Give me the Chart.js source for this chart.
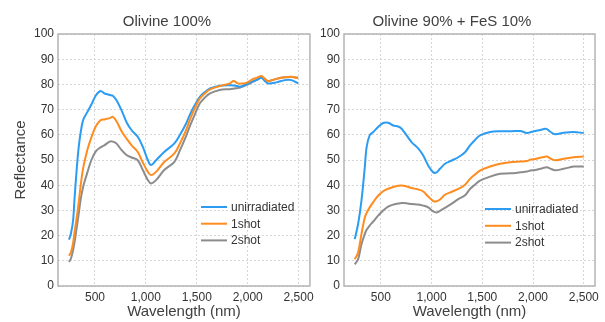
<!DOCTYPE html>
<html>
<head>
<meta charset="utf-8">
<script src="https://cdn.jsdelivr.net/npm/chart.js@4/dist/chart.umd.min.js"></script>
<style>
  html, body { margin: 0; padding: 0; background: #ffffff; }
  body { width: 605px; height: 322px; position: relative; overflow: hidden; }
  .panel { position: absolute; top: 0; }
</style>
</head>
<body>
<div class="panel" style="left:0px;width:318px;height:322px;"><canvas id="left" width="318" height="322"></canvas></div>
<div class="panel" style="left:312px;width:293px;height:322px;"><canvas id="right" width="293" height="322"></canvas></div>
<script>
// ---------- data ----------
const seriesNames = ['unirradiated', '1shot', '2shot'];
const xTickValues = [500, 1000, 1500, 2000, 2500];
const yTickStep = 10;

// Panel 1: Olivine 100%
const leftWavelength = [245, 265, 285, 300, 320, 340, 360, 385, 425, 465, 510, 555, 595, 645, 675, 710, 760, 810, 860, 920, 970, 1020, 1050, 1100, 1180, 1280, 1335, 1395, 1430, 1480, 1530, 1580, 1630, 1725, 1825, 1860, 1905, 1925, 1985, 2050, 2085, 2135, 2165, 2200, 2280, 2365, 2430, 2495];
const leftUnirradiated = [18.4, 21, 26, 35, 46, 55, 61, 66, 69, 72, 75.7, 77.4, 76.4, 75.8, 75.5, 73.8, 69.8, 65, 61.8, 59.2, 55.2, 49.9, 48, 49.9, 53.2, 56.6, 60, 64.5, 67.8, 71.8, 75.1, 77, 78.4, 79.5, 79.7, 79.6, 79.3, 79.1, 80, 81.2, 81.7, 82.6, 81.5, 80.4, 80.8, 81.7, 81.7, 80.4];
const leftOneShot = [12.0, 13.5, 17, 21.5, 27, 33, 40, 47, 54, 59, 63.5, 65.8, 66.1, 66.6, 67.1, 65.5, 61.5, 58.5, 55.8, 53.2, 49, 45.3, 44, 45.3, 49.2, 52.6, 56.6, 61.9, 65.8, 70.5, 74.4, 76.5, 78, 79.3, 80.4, 81.3, 80.4, 80.3, 80.6, 82.1, 82.6, 83.3, 82.4, 81.3, 82.2, 82.8, 83, 82.4];
const leftTwoShot = [9.5, 11, 14.2, 17.5, 23, 28.5, 34.5, 39.5, 45, 50, 53.5, 55, 55.9, 57.3, 57.3, 56.6, 54, 52, 51, 49.9, 46, 42, 40.7, 42, 46, 49.3, 53.9, 59.5, 63.2, 68, 72.5, 74.8, 76.4, 77.8, 78.1, 78.3, 78.6, 78.7, 79.7, 81, 81.7, 82.6, 81.8, 81.3, 82.2, 82.8, 82.9, 82.7];

// Panel 2: Olivine 90% + FeS 10%
const rightWavelength = [243, 276, 309, 342, 360, 390, 425, 473, 523, 572, 622, 671, 705, 754, 803, 870, 918, 967, 1017, 1050, 1083, 1132, 1199, 1264, 1330, 1379, 1430, 1478, 1577, 1676, 1775, 1874, 1940, 1972, 2022, 2071, 2121, 2140, 2170, 2219, 2302, 2401, 2500];
const rightUnirradiated = [18.6, 24.6, 33.9, 47.1, 55.1, 59.8, 61.1, 63.1, 64.7, 64.8, 63.7, 63.3, 62.4, 59.8, 57.1, 54.5, 51.8, 47.8, 45.1, 45.1, 46.5, 48.5, 49.8, 51.1, 53.1, 55.8, 58, 59.8, 61.1, 61.4, 61.4, 61.5, 60.7, 61, 61.5, 61.9, 62.4, 62.2, 61.2, 60.2, 60.8, 61.1, 60.7];
const rightOneShot = [10.6, 13.3, 20.6, 27.2, 29, 31.2, 33.3, 35.8, 37.6, 38.6, 39.3, 39.8, 39.9, 39.5, 38.9, 38.3, 37.5, 35.5, 33.7, 33.6, 34.3, 36.2, 37.4, 38.5, 40.2, 42.5, 44.3, 45.8, 47.4, 48.5, 49.1, 49.4, 49.6, 50.1, 50.4, 50.9, 51.3, 51.4, 50.6, 49.9, 50.5, 51.1, 51.4];
const rightTwoShot = [8.6, 10.6, 16.6, 20.6, 22.3, 24, 25.6, 27.9, 30, 31.5, 32.3, 32.7, 32.9, 32.8, 32.5, 32.3, 31.9, 31.2, 29.6, 29.2, 29.8, 31, 32.7, 34.5, 36, 38.5, 40.3, 41.8, 43.4, 44.5, 44.7, 45.1, 45.4, 45.8, 46, 46.5, 47, 47.1, 46.6, 45.9, 46.5, 47.4, 47.4];

// ---------- styling ----------
const FONT = '"Liberation Sans", Arial, Helvetica, sans-serif';
Chart.defaults.font.family = FONT;
const colors = ['#2b9cf2', '#ff8c1f', '#8c8c8c'];
const drawOrder = [1, 0, 2];

function toPoints(xs, ys) { return xs.map((x, i) => ({ x: x, y: ys[i] })); }

const panelDecor = {
  id: 'panelDecor',
  afterDraw(chart, args, opts) {
    const ctx = chart.ctx, a = chart.chartArea;
    ctx.save();
    ctx.strokeStyle = '#b4b4b4';
    ctx.lineWidth = 1.5;
    ctx.strokeRect(a.left, a.top, a.right - a.left, a.bottom - a.top);
    // title
    ctx.font = '15px ' + FONT;
    ctx.fillStyle = '#404040';
    ctx.textAlign = 'center';
    ctx.textBaseline = 'alphabetic';
    ctx.fillText(opts.title, opts.titleX, opts.titleY);
    // legend
    ctx.font = '12px ' + FONT;
    ctx.textAlign = 'left';
    ctx.textBaseline = 'middle';
    chart.data.datasets.forEach((ds, i) => {
      const y = a.top + opts.legendTop + i * opts.legendGap;
      const x0 = a.left + opts.legendLeft;
      ctx.strokeStyle = ds.borderColor;
      ctx.lineWidth = 2;
      ctx.beginPath();
      ctx.moveTo(x0, y);
      ctx.lineTo(x0 + 26, y);
      ctx.stroke();
      ctx.fillStyle = '#333333';
      ctx.fillText(ds.label, x0 + 30, y + 0.5);
    });
    ctx.restore();
  }
};

function makeChart(id, xs, ysList, cfg) {
  return new Chart(document.getElementById(id), {
    type: 'line',
    data: {
      datasets: ysList.map((ys, i) => ({
        label: seriesNames[i],
        data: toPoints(xs, ys),
        borderColor: colors[i],
        backgroundColor: colors[i],
        borderWidth: 2,
        pointRadius: 0,
        tension: 0.35,
        fill: false,
        order: drawOrder[i]
      }))
    },
    options: {
      responsive: false,
      animation: false,
      devicePixelRatio: 1,
      layout: { padding: { top: 34, right: cfg.padRight, bottom: 0, left: 0 } },
      plugins: {
        legend: { display: false },
        tooltip: { enabled: false },
        title: { display: false },
        panelDecor: cfg.decor
      },
      scales: {
        x: {
          type: 'linear',
          min: 137,
          max: 2611,
          afterBuildTicks: s => { s.ticks = xTickValues.map(v => ({ value: v })); },
          afterFit: s => { s.height = 36; },
          grid: { color: '#d6d6d6', lineWidth: 1, drawTicks: false },
          border: { display: false, dash: [2, 2] },
          ticks: {
            color: '#333333', font: { size: 12, family: FONT }, padding: 4, maxRotation: 0,
            callback: v => Number(v).toLocaleString('en-US')
          },
          title: {
            display: true, text: 'Wavelength (nm)', color: '#404040',
            font: { size: 15, family: FONT }, padding: { top: 0, bottom: 1 }
          }
        },
        y: {
          min: 0,
          max: 100,
          afterFit: s => { s.width = cfg.yWidth; },
          grid: { color: '#d6d6d6', lineWidth: 1, drawTicks: false },
          border: { display: false, dash: [2, 2] },
          ticks: { stepSize: yTickStep, color: '#333333', font: { size: 12, family: FONT }, padding: 4 },
          title: {
            display: cfg.yTitle, text: 'Reflectance', color: '#404040',
            font: { size: 15, family: FONT }, padding: { top: 12, bottom: 0 }
          }
        }
      }
    },
    plugins: [panelDecor]
  });
}

makeChart('left', leftWavelength, [leftUnirradiated, leftOneShot, leftTwoShot], {
  padRight: 8, yWidth: 58, yTitle: true,
  decor: { title: 'Olivine 100%', titleX: 167, titleY: 26, legendLeft: 143, legendTop: 173, legendGap: 16.7 }
});
makeChart('right', rightWavelength, [rightUnirradiated, rightOneShot, rightTwoShot], {
  padRight: 10, yWidth: 32, yTitle: false,
  decor: { title: 'Olivine 90% + FeS 10%', titleX: 140, titleY: 26, legendLeft: 141, legendTop: 175, legendGap: 16.8 }
});
</script>
</body>
</html>
